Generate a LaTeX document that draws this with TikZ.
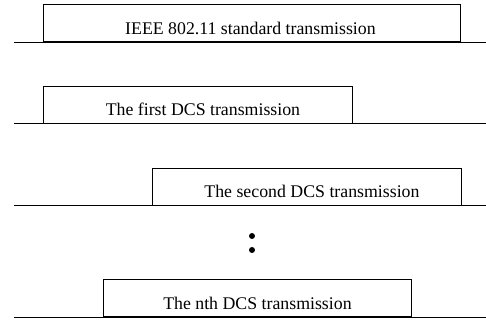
\documentclass[tikz,border=0pt]{standalone}
\usepackage{fontspec}
\setmainfont{Liberation Serif}
\usetikzlibrary{calc}
\begin{document}
\begin{tikzpicture}[x=1pt,y=1pt,
  tbox/.style={draw=black,line width=0.9pt,rectangle,inner sep=0pt,anchor=south west},
  txt/.style={font=\fontsize{17.8}{21}\selectfont,inner sep=0pt,anchor=base},
  tline/.style={draw=black,line width=0.9pt},
  dotmark/.style={circle,fill=black,inner sep=0pt,minimum size=6pt}]
\useasboundingbox (0,0) rectangle (486,320);
% row 1
\node[tbox,minimum width=417pt,minimum height=37.6pt] (b1) at (43,277.7) {};
\node[txt] (t1) at ($(b1.south)+(-1.5,8)$) {IEEE 802.11 standard transmission};
\coordinate (L1) at (14,277.7); \coordinate (R1) at (486,277.7);
\draw[tline] (L1) -- (R1);
% row 2
\node[tbox,minimum width=309pt,minimum height=37pt] (b2) at (43,196.3) {};
\node[txt] (t2) at ($(b2.south)+(5,8)$) {The first DCS transmission};
\coordinate (L2) at (14,196.3); \coordinate (R2) at (486,196.3);
\draw[tline] (L2) -- (R2);
% row 3
\node[tbox,minimum width=309pt,minimum height=36.4pt] (b3) at (152,114.3) {};
\node[txt] (t3) at ($(b3.south)+(5,8)$) {The second DCS transmission};
\coordinate (L3) at (14,114.3); \coordinate (R3) at (486,114.3);
\draw[tline] (L3) -- (R3);
% dots
\node[dotmark] (d1) at (252,84) {};
\node[dotmark] (d2) at (252,70) {};
% row 4
\node[tbox,minimum width=308pt,minimum height=37.3pt] (b4) at (103,2.7) {};
\node[txt] (t4) at ($(b4.south)+(0,8)$) {The nth DCS transmission};
\coordinate (L4) at (14,2.7); \coordinate (R4) at (486,2.7);
\draw[tline] (L4) -- (R4);
\end{tikzpicture}
\end{document}
